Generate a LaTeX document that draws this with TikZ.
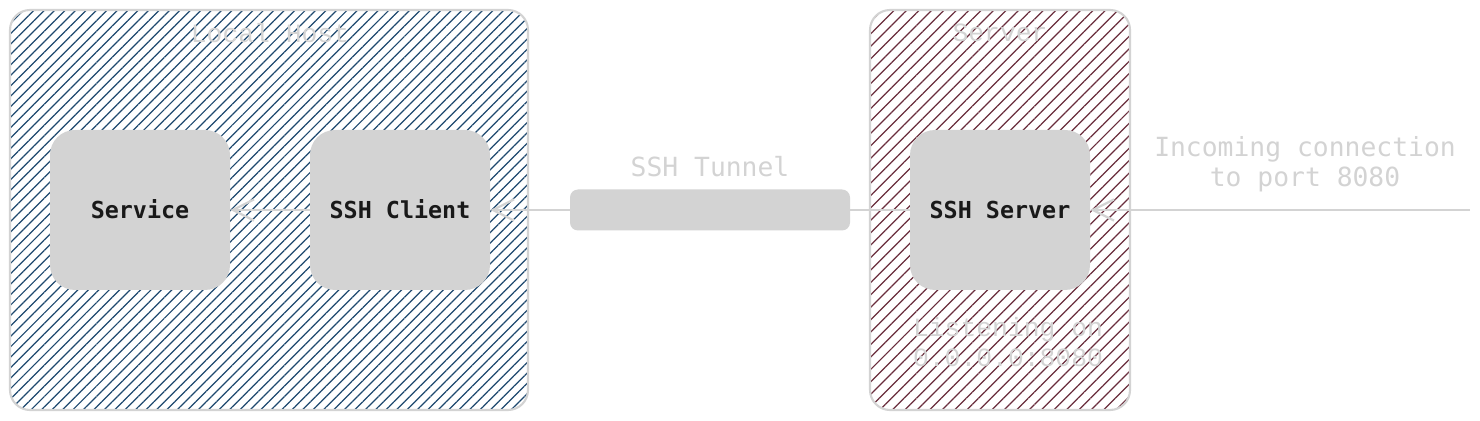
\documentclass[tikz,border=0pt]{standalone}
\usepackage{fontspec}
\usepackage{tikz}
\setmonofont{DejaVu Sans Mono}
\newfontfamily\courier{Liberation Mono}
\usetikzlibrary{
    arrows.meta,
    positioning,
    patterns.meta
}
\definecolor{lgray}{RGB}{211,211,211}
\definecolor{hostBlue}{RGB}{30,72,110}
\definecolor{srvMaroon}{RGB}{105,45,60}
\definecolor{ink}{RGB}{25,25,25}
\tikzset{
  cluster/.style = {draw=lgray, line width=1.2pt, rounded corners=0.4cm,
                    minimum height=8cm, inner sep=0pt},
  proc/.style    = {fill=lgray, rounded corners=0.5cm, minimum width=3.6cm,
                    minimum height=3.2cm, inner sep=0pt,
                    font=\ttfamily\bfseries\fontsize{13.3}{16}\selectfont, text=ink},
  ttl/.style     = {text=lgray, font=\courier\fontsize{15}{17}\selectfont, align=center},
  note/.style    = {text=lgray, font=\ttfamily\fontsize{15}{17}\selectfont, align=center},
  link/.style    = {draw=lgray, line width=1.7pt},
  arr/.style     = {link, -{Straight Barb[length=12pt, width=12pt, line width=1.3pt]}}
}

\begin{document}
\begin{tikzpicture}
    \useasboundingbox (0,0) rectangle (29.6,8.4);
    % clusters
    \node[cluster, minimum width=10.36cm,
          pattern={Lines[angle=45, distance=4.2pt, line width=0.7pt]},
          pattern color=hostBlue] (local) at (5.38,4.2) {};
    \node[cluster, minimum width=5.2cm,
          pattern={Lines[angle=45, distance=5pt, line width=0.7pt]},
          pattern color=srvMaroon] (server) at (20.0,4.2) {};
    \node[ttl] (localtl)  at (5.4,7.74)  {Local Host};
    \node[ttl] (servertl) at (20.0,7.74) {Server};
    \node[ttl] (listen)   at (20.16,1.56) {Listening on\\0.0.0.0:8080};

    % processes
    \node[proc] (service) at (2.8,4.2)  {\raisebox{1.5pt}{Service}};
    \node[proc] (client)  at (8.0,4.2)  {\raisebox{1.5pt}{SSH Client}};
    \node[proc] (sshd)    at (20.0,4.2) {SSH Server};

    % tunnel
    \node[fill=lgray, rounded corners=0.16cm, minimum width=5.6cm,
          minimum height=0.82cm] (tunnel) at (14.2,4.2) {};
    \node[note] (tunneltl) at (14.2,5.06) {SSH Tunnel};
    \node[note] (incoming) at (26.1,5.12) {Incoming connection\\to port 8080};
    \coordinate (outside) at (29.4,4.2);

    \draw[arr] (outside) -- (sshd.east);
    \draw[link] (tunnel.east) -- (sshd.west);
    \draw[arr] (tunnel.west) -- (client.east);
    \draw[arr] (client.west) -- (service.east);
\end{tikzpicture}
\end{document}
